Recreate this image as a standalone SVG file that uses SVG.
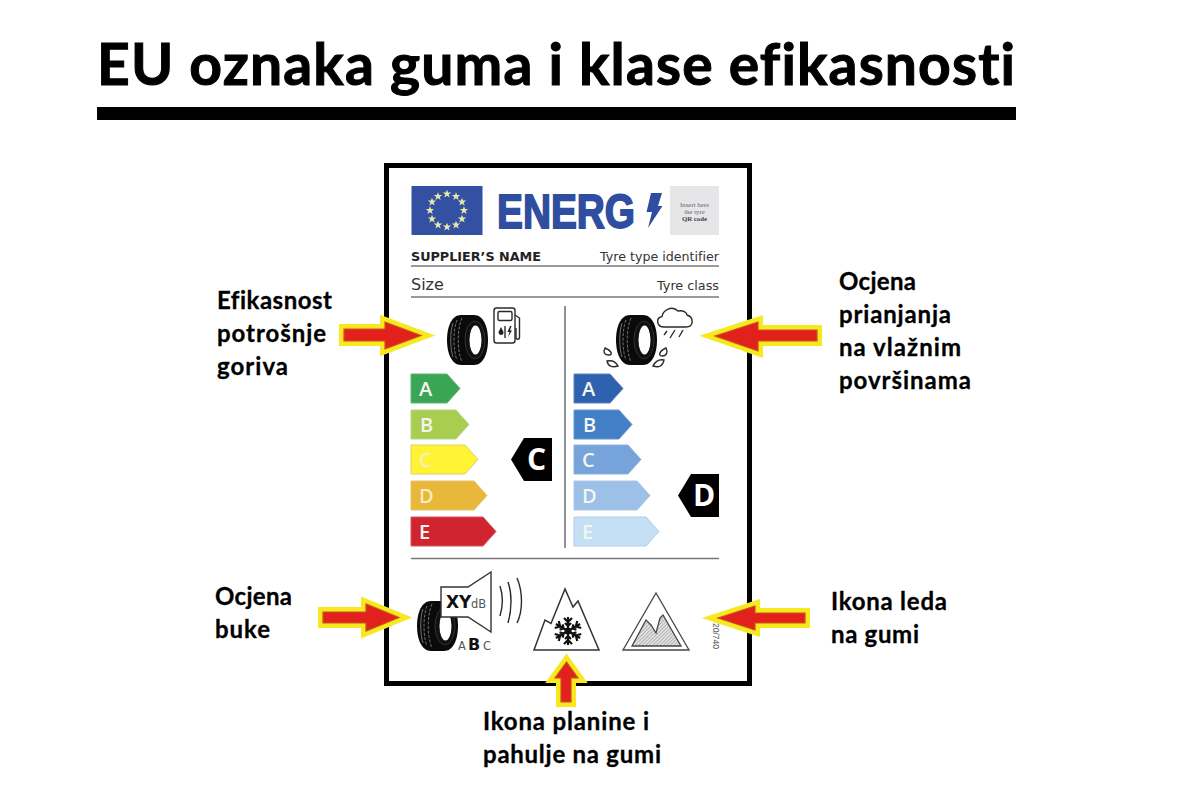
<svg xmlns="http://www.w3.org/2000/svg" width="1200" height="800" viewBox="0 0 1200 800">
<style>
text{font-family:Lato,"Open Sans","Liberation Sans",sans-serif;font-variant-ligatures:none}
.lab{font-size:24px;font-weight:700;fill:#000;stroke:#000;stroke-width:.3}
.sans{font-family:"DejaVu Sans",sans-serif}
.serif{font-family:"Liberation Serif",serif}
.bl{font-family:"Open Sans",sans-serif;font-size:20px;font-weight:600;fill:#f2f6ee}
.big{font-family:"Open Sans",sans-serif;font-size:30px;font-weight:700;fill:#fff}
.rule{stroke:#77777a;stroke-width:1.600}
.ay{fill:#f7e81f;stroke:#f7e81f;stroke-width:10;stroke-linejoin:miter;stroke-miterlimit:5}
.ar{fill:#e3211c;stroke:#c8541a;stroke-width:1.200}
.ic{fill:none;stroke:#2a2a2a;stroke-width:1.400}
</style>
<defs>
<g id="tyre">
<path d="M14 0H27C36 0 41 11 41 25S36 50 27 50H14C5 50 0 39 0 25S5 0 14 0Z" fill="#0a0a0a"/>
<g fill="none" stroke="#8a8a8a" stroke-width=".8">
<path d="M6 8C3 16 3 34 6 42"/><path d="M10 5C6 14 6 36 10 45" stroke-dasharray="3 1.500"/><path d="M15 3C10 14 10 36 15 47" stroke-dasharray="3 1.500"/>
</g>
<ellipse cx="28" cy="25" rx="10" ry="19" fill="#111" stroke="#555" stroke-width=".5"/>
<ellipse cx="28.500" cy="25" rx="6" ry="14.500" fill="#fff"/>
</g>
<path id="star" d="M0-4.200 1.100-1.400 4.200-1.400 1.700.6 2.700 3.600 0 1.800-2.700 3.600-1.700.6-4.200-1.400-1.100-1.400Z" fill="#e6e6a8"/>
<g id="flakearm"><path d="M0 0V-14M0-9-4-13M0-9 4-13M0-5-3-8M0-5 3-8" fill="none" stroke="#111" stroke-width="2.200"/></g>
<pattern id="hatch" width="2.500" height="2.500" patternUnits="userSpaceOnUse" patternTransform="rotate(45)"><rect width="2.500" height="2.500" fill="#e2e2e2"/><path d="M0 0V2.500" stroke="#888" stroke-width="1"/></pattern>
</defs>
<rect width="1200" height="800" fill="#fff"/>

<g id="title">
<text x="97" y="85" font-size="57" font-weight="700" fill="#000" stroke="#000" stroke-width="1" textLength="918" lengthAdjust="spacing">EU oznaka guma i klase efikasnosti</text>
<rect x="97" y="107" width="919" height="13" fill="#000"/>
</g>

<g id="label-card">
<rect x="386.500" y="165.500" width="363" height="518" fill="#fff" stroke="#000" stroke-width="5"/>
<g id="header">
<rect x="411.500" y="186" width="71" height="49" fill="#3350a3"/>
<use href="#star" x="447" y="194"/><use href="#star" x="456" y="196.500"/><use href="#star" x="462" y="202"/><use href="#star" x="464" y="210.500"/><use href="#star" x="462" y="219"/><use href="#star" x="456" y="225"/><use href="#star" x="447" y="227"/><use href="#star" x="438" y="225"/><use href="#star" x="432" y="219"/><use href="#star" x="430" y="210.500"/><use href="#star" x="432" y="202"/><use href="#star" x="438" y="196.500"/>
<text x="497" y="228" font-size="48" font-weight="700" fill="#2f4e9f" stroke="#2f4e9f" stroke-width="1.800" textLength="138" lengthAdjust="spacingAndGlyphs" style="font-family:'Liberation Sans',sans-serif">ENERG</text>
<path d="M651 193 662 193 658 206 662.500 206 648 228 652 212 646.500 212Z" fill="#2f4e9f"/>
<rect x="670" y="186" width="49" height="49" fill="#e6e6e8"/>
<text class="serif" x="694.500" y="207" font-size="6.800" fill="#666" text-anchor="middle">Insert here</text>
<text class="serif" x="694.500" y="214" font-size="6.800" fill="#666" text-anchor="middle">the tyre</text>
<text class="serif" x="694.500" y="221" font-size="6.800" font-weight="700" fill="#444" text-anchor="middle">QR code</text>
</g>
<g id="info">
<text class="sans" x="411" y="261" font-size="12.500" font-weight="700" fill="#222" textLength="130" lengthAdjust="spacingAndGlyphs">SUPPLIER’S NAME</text>
<text class="sans" x="719" y="261" font-size="13" fill="#333" text-anchor="end" textLength="119" lengthAdjust="spacingAndGlyphs">Tyre type identifier</text>
<line class="rule" x1="411" y1="266" x2="719" y2="266"/>
<text class="sans" x="411" y="290" font-size="16" fill="#333">Size</text>
<text class="sans" x="719" y="290" font-size="13" fill="#333" text-anchor="end" textLength="62" lengthAdjust="spacingAndGlyphs">Tyre class</text>
<line class="rule" x1="411" y1="297" x2="719" y2="297"/>
<line class="rule" x1="565" y1="306" x2="565" y2="548"/>
<line class="rule" x1="411" y1="558.500" x2="719" y2="558.500"/>
</g>
<g id="fuel-icon">
<use href="#tyre" x="447" y="315"/>
<rect class="ic" x="494" y="308" width="21" height="35" rx="2.500"/>
<rect class="ic" x="498" y="311.500" width="14" height="9" rx="1.500"/>
<path class="ic" d="M515 315 519.500 318V337C519.500 340 516 340 516 337V328"/>
<line class="ic" x1="505" y1="326" x2="505" y2="338" stroke-width="1"/>
<path d="M501 327 503.500 332C504 336 498.500 336 498.500 332Z" fill="#222"/>
<path d="M510 326 507.500 332 509.500 332 508 337 512 330.500 510 330.500 511.500 326Z" fill="#222"/>
</g>
<g id="wet-icon">
<use href="#tyre" x="616" y="315"/>
<path class="ic" d="M664 327C657 327 655 318 662 316.500C663 310 672 305 678 311C684 310 687 313 687 315C694 317 694 327 686 327Z"/>
<path class="ic" d="M667 331 664 335M675 330 670 338M683 330 679 337"/>
<path class="ic" d="M605 348C603 352 604 355 609 355C613 355 612 351 605 348ZM607 361C612 360 616 362 618 366C612 368 608 366 607 361Z"/>
<path class="ic" d="M666 348C668 352 667 356 662 356C658 356 659 351 666 348ZM664 360C659 359 655 362 653 366C659 368 663 366 664 360Z"/>
</g>
<g id="scale-fuel">
<path d="M411 374H447L460 388.500 447 403H411Z" fill="#3aa655" stroke="#62b477"/>
<path d="M411 410H456L469 424.500 456 439H411Z" fill="#a9cd50" stroke="#bbd680"/>
<path d="M411 445H465L478 459.500 465 474H411Z" fill="#fff334" stroke="#d8d266"/>
<path d="M411 481H474L487 495.500 474 510H411Z" fill="#e9b73a" stroke="#e3c46c"/>
<path d="M411 517H483L496 531.500 483 546H411Z" fill="#d02530" stroke="#cf5460"/>
<text class="bl" x="419" y="396">A</text><text class="bl" x="420" y="432">B</text><text class="bl" x="419" y="467" style="fill:#f5f2b0">C</text><text class="bl" x="419" y="503" style="fill:#f7ecc0">D</text><text class="bl" x="419" y="539">E</text>
</g>
<g id="scale-wet">
<path d="M574 374H610L623 388.500 610 403H574Z" fill="#2e62ae" stroke="#5c83bd"/>
<path d="M574 410H619L632 424.500 619 439H574Z" fill="#437fc7" stroke="#6b98cf"/>
<path d="M574 445H628L641 459.500 628 474H574Z" fill="#76a4da" stroke="#8eb2dc"/>
<path d="M574 481H637L650 495.500 637 510H574Z" fill="#9cc0e8" stroke="#aac6e6"/>
<path d="M574 517H646L659 531.500 646 546H574Z" fill="#c5dff5" stroke="#b4cfe6"/>
<text class="bl" x="582" y="396">A</text><text class="bl" x="583" y="432">B</text><text class="bl" x="582" y="467">C</text><text class="bl" x="582" y="503">D</text><text class="bl" x="582" y="539">E</text>
</g>
<g id="grade-fuel">
<path d="M552 438H524L511 459.500 524 481H552Z" fill="#000"/>
<text class="big" x="527" y="470">C</text>
</g>
<g id="grade-wet">
<path d="M719 474H691L678 495.500 691 517H719Z" fill="#000"/>
<text class="big" x="693" y="506">D</text>
</g>
<g id="noise-icon">
<use href="#tyre" x="417" y="601"/>
<path d="M441 587H468L491 572V632L468 617H441Z" fill="#fff" stroke="#333" stroke-width="1.400"/>
<text class="sans" x="446" y="608" font-size="17" font-weight="700" fill="#111">XY</text>
<text class="sans" x="471" y="608" font-size="11.500" fill="#555">dB</text>
<text class="sans" x="458" y="650" font-size="11.500" fill="#555">A</text>
<text class="sans" x="468" y="650" font-size="16" font-weight="700" fill="#111">B</text>
<text class="sans" x="483" y="650" font-size="11.500" fill="#555">C</text>
<path class="ic" d="M500 586C503 595 503 606 500 616M508 582C512 593 512 609 508 623M517 578C523 592 523 611 517 623" stroke-width="1.200"/>
</g>
<g id="snow-icon">
<path d="M534 650 545 620 551 623.500 565 589 573 607 578 601 599 650Z" fill="#fff" stroke="#333" stroke-width="1.500"/>
<g transform="translate(568 631)"><use href="#flakearm"/><use href="#flakearm" transform="rotate(60)"/><use href="#flakearm" transform="rotate(120)"/><use href="#flakearm" transform="rotate(180)"/><use href="#flakearm" transform="rotate(240)"/><use href="#flakearm" transform="rotate(300)"/><circle r="3.500" fill="#111"/></g>
</g>
<g id="ice-icon">
<path d="M623 650 656 593 689 650Z" fill="#fff" stroke="#444" stroke-width="1.300"/>
<path d="M632 646 646 620 651 625 656 633 660 618 663 615 681 646Z" fill="url(#hatch)" stroke="#444" stroke-width="1.300"/>
<text transform="translate(712.500 623) rotate(90)" font-size="8.500" fill="#555" style="font-family:'Liberation Sans',sans-serif">20/740</text>
</g>
</g>

<g id="connectors">
<path class="ay" d="M344 329H385V322L421 335.500 385 349V341H344Z"/>
<path class="ar" d="M344 329H385V322L421 335.500 385 349V341H344Z"/>
<path class="ay" d="M817 330H758V322L715 336 758 351V341H817Z"/>
<path class="ar" d="M817 330H758V322L715 336 758 351V341H817Z"/>
<path class="ay" d="M323 612H366V604L399 617.500 366 631V623H323Z"/>
<path class="ar" d="M323 612H366V604L399 617.500 366 631V623H323Z"/>
<path class="ay" d="M805 613H755V606L718 618 755 630V623H805Z"/>
<path class="ar" d="M805 613H755V606L718 618 755 630V623H805Z"/>
<path class="ay" d="M561 702V678H555L566.500 662 578 678H571V702Z"/>
<path class="ar" d="M561 702V678H555L566.500 662 578 678H571V702Z"/>
</g>

<g id="captions">
<g id="cap-fuel"><text class="lab" x="217" y="309" textLength="115">Efikasnost</text><text class="lab" x="217" y="342" textLength="109">potrošnje</text><text class="lab" x="217" y="375" textLength="71">goriva</text></g>
<g id="cap-wet"><text class="lab" x="839" y="290" textLength="77">Ocjena</text><text class="lab" x="839" y="323" textLength="112">prianjanja</text><text class="lab" x="839" y="356" textLength="122">na vlažnim</text><text class="lab" x="839" y="389" textLength="132">površinama</text></g>
<g id="cap-noise"><text class="lab" x="215" y="605" textLength="77">Ocjena</text><text class="lab" x="215" y="638" textLength="55">buke</text></g>
<g id="cap-ice"><text class="lab" x="831" y="610" textLength="116">Ikona leda</text><text class="lab" x="831" y="643" textLength="88">na gumi</text></g>
<g id="cap-snow"><text class="lab" x="483" y="730" textLength="166">Ikona planine i</text><text class="lab" x="483" y="763" textLength="178">pahulje na gumi</text></g>
</g>
</svg>
